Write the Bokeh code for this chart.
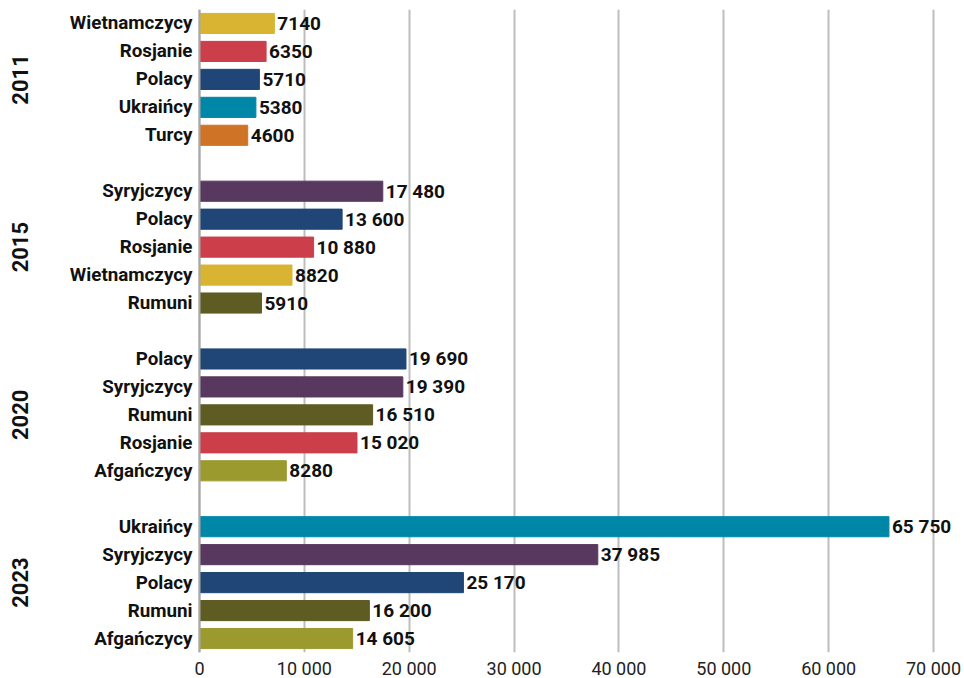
import math
from bokeh.plotting import figure
from bokeh.models import FactorRange, Range1d, ColumnDataSource, FixedTicker, Span
from bokeh.embed import file_html
from bokeh.resources import INLINE
from bokeh.core.properties import value

years = ["2011", "2015", "2020", "2023"]
nat_2011 = ["Wietnamczycy", "Rosjanie", "Polacy", "Ukraińcy", "Turcy"]
val_2011 = [7140, 6350, 5710, 5380, 4600]
nat_2015 = ["Syryjczycy", "Polacy", "Rosjanie", "Wietnamczycy", "Rumuni"]
val_2015 = [17480, 13600, 10880, 8820, 5910]
nat_2020 = ["Polacy", "Syryjczycy", "Rumuni", "Rosjanie", "Afgańczycy"]
val_2020 = [19690, 19390, 16510, 15020, 8280]
nat_2023 = ["Ukraińcy", "Syryjczycy", "Polacy", "Rumuni", "Afgańczycy"]
val_2023 = [65750, 37985, 25170, 16200, 14605]

colors = {
    "Wietnamczycy": "#D8B432",
    "Rosjanie": "#CC3E4A",
    "Polacy": "#1F4676",
    "Ukraińcy": "#0087A8",
    "Turcy": "#CF7326",
    "Syryjczycy": "#58385E",
    "Rumuni": "#5E5C23",
    "Afgańczycy": "#9B9A2F",
}

x_ticks = [0, 10000, 20000, 30000, 40000, 50000, 60000, 70000]

groups = [(years[0], nat_2011, val_2011), (years[1], nat_2015, val_2015),
          (years[2], nat_2020, val_2020), (years[3], nat_2023, val_2023)]


def fmt(v):
    if v < 10000:
        return str(v)
    return f"{v:,}".replace(",", " ")


factors, vals, cols, labels, names = [], [], [], [], []
mid_factor = {}
for yr, nats, vs in reversed(groups):
    mid_factor[yr] = (yr, nats[len(nats) // 2])
    for n, v in zip(reversed(nats), reversed(vs)):
        factors.append((yr, n))
        vals.append(v)
        cols.append(colors[n])
        labels.append(fmt(v))
        names.append(n)

src = ColumnDataSource(dict(y=factors, v=vals, c=cols, t=labels, n=names,
                            zero=[0] * len(vals)))

# horizontal layout in pixels: label area left of the zero line, then the bar area
FIG_W = 964
LEFT_PX = 199
PX_PER_UNIT = 104.86 / 10000
X_START = -LEFT_PX / PX_PER_UNIT
X_END = X_START + FIG_W / PX_PER_UNIT

p = figure(
    y_range=FactorRange(*factors, group_padding=1.0, range_padding=0),
    x_range=Range1d(X_START, X_END),
    frame_width=FIG_W, frame_height=643,
    output_backend="svg", toolbar_location=None,
    min_border_top=9, min_border_right=0, min_border_left=0, min_border_bottom=0,
)
p.hbar(y="y", right="v", left=0, height=0.72, color="c", source=src)
p.text(x="v", y="y", text="t", source=src, x_offset=3,
       text_baseline="middle", text_align="left",
       text_font=value("Roboto"), text_font_style="bold",
       text_font_size="19px", text_color="#111111")
# category labels
p.text(x="zero", y="y", text="n", source=src, x_offset=-7,
       text_baseline="middle", text_align="right",
       text_font=value("Roboto"), text_font_style="bold",
       text_font_size="18.8px", text_color="#111111")
# year labels
ysrc = ColumnDataSource(dict(
    x=[-180 / PX_PER_UNIT] * len(years),
    y=[mid_factor[yr] for yr in years],
    t=years))
p.text(x="x", y="y", text="t", source=ysrc, angle=math.pi / 2,
       text_baseline="middle", text_align="center",
       text_font=value("Roboto"), text_font_style="bold",
       text_font_size="22px", text_color="#111111")

p.add_layout(Span(location=0, dimension="height", line_color="#A8A8A8", line_width=2))

p.outline_line_color = None
p.ygrid.grid_line_color = None
p.yaxis.visible = False
p.xgrid.grid_line_color = "#BDBDBD"
p.xgrid.grid_line_width = 2

p.xaxis.ticker = FixedTicker(ticks=x_ticks)
p.xaxis.major_label_overrides = {t: f"{t:,}".replace(",", " ") for t in x_ticks}
p.xaxis.axis_line_color = None
p.xaxis.major_tick_line_color = None
p.xaxis.minor_tick_line_color = None
p.xaxis.major_label_text_font = "Roboto"
p.xaxis.major_label_text_font_size = "18px"
p.xaxis.major_label_text_color = "#222222"
p.xaxis.major_label_standoff = 5
p.xaxis.major_tick_out = 0
p.xaxis.major_tick_in = 0

open("out.html", "w").write(file_html(p, INLINE))
